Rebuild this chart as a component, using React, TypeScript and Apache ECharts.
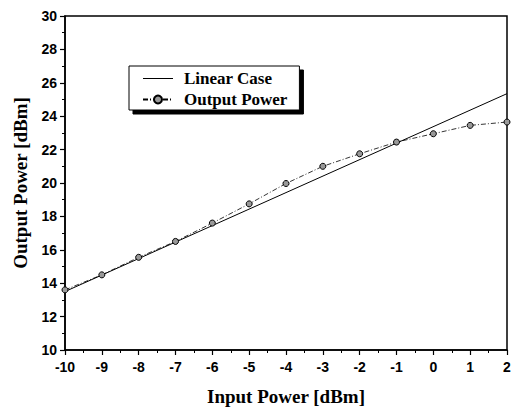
import React, { useEffect, useRef } from "react";
import * as echarts from "echarts";

const inputPower = [-10, -9, -8, -7, -6, -5, -4, -3, -2, -1, 0, 1, 2];
const outputPower = [13.6, 14.5, 15.55, 16.5, 17.6, 18.75, 19.97, 21.0, 21.75, 22.45, 22.95, 23.45, 23.65];
const linearX = [-10, 2];
const linearY = [13.5, 25.35];
const seriesNames = ["Linear Case", "Output Power"];

export default function App() {
  const ref = useRef<HTMLDivElement>(null);
  useEffect(() => {
    if (!ref.current) return;
    const chart = echarts.init(ref.current, null, { renderer: "svg" });
    const tickFont = { fontFamily: "Liberation Sans", fontWeight: "bold" as const, fontSize: 14, color: "#000" };
    const titleFont = { fontFamily: "Liberation Serif", fontWeight: "bold" as const, fontSize: 19, color: "#000" };
    chart.setOption({
      animation: false,
      backgroundColor: "#fff",
      grid: {
        left: 65, right: 6, top: 16, bottom: 57,
        outerBoundsMode: "none",
        containLabel: false,
        show: true, borderColor: "#000", borderWidth: 1.5, backgroundColor: "transparent",
      },
      legend: {
        left: 129,
        top: 66,
        orient: "vertical",
        data: [
          { name: seriesNames[0], icon: "path://M0,0M0,10M0,4.5H30V5.5H0Z" },
          { name: seriesNames[1] },
        ],
        itemWidth: 30,
        itemHeight: 10,
        itemGap: 2,
        padding: [3, 12, 1, 13],
        backgroundColor: "#fff",
        borderColor: "#000",
        borderWidth: 1,
        shadowColor: "#000",
        shadowBlur: 0,
        shadowOffsetX: 4,
        shadowOffsetY: 4,
        textStyle: { fontFamily: "Liberation Serif", fontWeight: "bold", fontSize: 17, color: "#000", lineHeight: 19, padding: [0, 0, 0, 6] },
      },
      xAxis: {
        type: "value",
        min: -10,
        max: 2,
        interval: 1,
        name: "Input Power [dBm]",
        nameLocation: "middle",
        nameGap: 37,
        nameTextStyle: titleFont,
        axisLine: { onZero: false, lineStyle: { color: "#000", width: 1.5 } },
        axisTick: { show: true, length: 5, lineStyle: { color: "#000", width: 1.2 } },
        minorTick: { show: true, splitNumber: 2, length: 3, lineStyle: { color: "#000", width: 1 } },
        axisLabel: { ...tickFont, margin: 10 },
        splitLine: { show: false },
      },
      yAxis: {
        type: "value",
        min: 10,
        max: 30,
        interval: 2,
        name: "Output Power [dBm]",
        nameLocation: "middle",
        nameGap: 35,
        nameTextStyle: titleFont,
        axisLine: { onZero: false, lineStyle: { color: "#000", width: 1.5 } },
        axisTick: { show: true, length: 5, lineStyle: { color: "#000", width: 1.2 } },
        minorTick: { show: true, splitNumber: 2, length: 3, lineStyle: { color: "#000", width: 1 } },
        axisLabel: { ...tickFont, margin: 8 },
        splitLine: { show: false },
      },
      series: [
        {
          name: seriesNames[0],
          type: "line",
          data: linearX.map((x, i) => [x, linearY[i]]),
          symbol: "none",
          lineStyle: { color: "#000", width: 1 },
          itemStyle: { color: "#000" },
        },
        {
          name: seriesNames[1],
          type: "line",
          data: inputPower.map((x, i) => [x, outputPower[i]]),
          symbol: "circle",
          symbolSize: 6,
          lineStyle: { color: "#000", width: 0.8, type: [5, 2, 1, 2] },
          itemStyle: { color: "#999", borderColor: "#000", borderWidth: 1 },
        },
      ],
    });
    return () => chart.dispose();
  }, []);
  return <div ref={ref} style={{ width: 513, height: 407, position: "absolute", left: 0, top: 0 }} />;
}
